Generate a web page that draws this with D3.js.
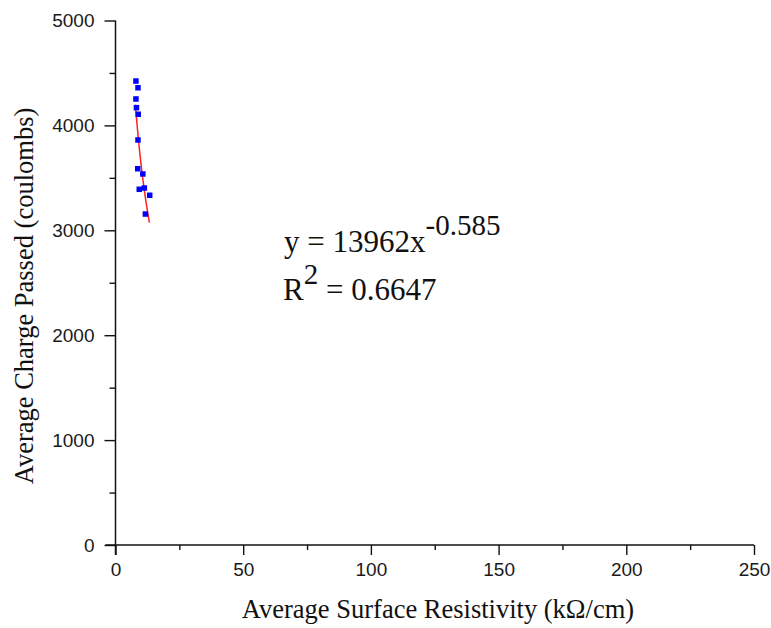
<!DOCTYPE html>
<html><head><meta charset="utf-8">
<script src="https://cdn.jsdelivr.net/npm/d3@7"></script>
<style>body{margin:0;background:#fff}svg{display:block}</style>
</head><body>
<script>
const resistivity = [8.0, 8.8, 8.0, 8.2, 8.9, 8.8, 8.7, 10.7, 9.3, 11.3, 13.4, 11.7];
const charge = [4423, 4359, 4252, 4169, 4106, 3861, 3587, 3537, 3391, 3403, 3334, 3155];
const fitA = 13962, fitB = "-0.585", fitR2 = "0.6647";
const fitRange = [7.8, 13.3];
const xTicks = [0, 50, 100, 150, 200, 250];
const yTicks = [0, 1000, 2000, 3000, 4000, 5000];

const W = 771, H = 628;
const svg = d3.select("body").append("svg").attr("width", W).attr("height", H);
const x = d3.scaleLinear().domain([0, 250]).range([115.5, 754]);
const y = d3.scaleLinear().domain([0, 5000]).range([545, 20.5]);

const sans = "Liberation Sans, Arial, sans-serif";
const xAxis = svg.append("g").attr("transform", `translate(0,${y(0)})`)
  .call(d3.axisBottom(x).tickValues(xTicks).tickSize(10).tickPadding(8).tickFormat(d3.format("d")));
const xMinor = svg.append("g").attr("transform", `translate(0,${y(0)})`)
  .call(d3.axisBottom(x).tickValues(d3.range(25, 250, 50)).tickSize(5).tickFormat(""));
const yAxis = svg.append("g").attr("transform", `translate(${x(0)},0)`)
  .call(d3.axisLeft(y).tickValues(yTicks).tickSize(11).tickPadding(10).tickFormat(d3.format("d")));
const yMinor = svg.append("g").attr("transform", `translate(${x(0)},0)`)
  .call(d3.axisLeft(y).tickValues(d3.range(500, 5000, 1000)).tickSize(6).tickFormat(""));
[xAxis, xMinor, yAxis, yMinor].forEach(g => {
  g.select(".domain").remove();
  g.selectAll("line").attr("stroke", "#111").attr("stroke-width", 1.4);
  g.selectAll("text").attr("font-family", sans).attr("font-size", 19).attr("fill", "#1a1a1a");
});
// axis lines (crossing at origin)
svg.append("line").attr("x1", x(0) - 10).attr("x2", x(250)).attr("y1", y(0)).attr("y2", y(0))
  .attr("stroke", "#111").attr("stroke-width", 1.5);
svg.append("line").attr("x1", x(0)).attr("x2", x(0)).attr("y1", y(5000)).attr("y2", y(0) + 10)
  .attr("stroke", "#111").attr("stroke-width", 1.5);

// fit line
const fitPts = d3.range(fitRange[0], fitRange[1] + 0.001, 0.1).map(v => [v, fitA * Math.pow(v, +fitB)]);
svg.append("path").datum(fitPts)
  .attr("d", d3.line().x(d => x(d[0])).y(d => y(d[1])))
  .attr("fill", "none").attr("stroke", "#ff2020").attr("stroke-width", 1.5);

// points
const s = 5.5;
svg.selectAll("rect.pt").data(resistivity.map((v, i) => [v, charge[i]])).enter()
  .append("rect").attr("class", "pt")
  .attr("x", d => x(d[0]) - s / 2).attr("y", d => y(d[1]) - s / 2)
  .attr("width", s).attr("height", s).attr("fill", "#0000ff");

// titles
const serif = "Liberation Serif, Times New Roman, serif";
svg.append("text").attr("x", 438).attr("y", 618).attr("text-anchor", "middle")
  .attr("font-family", serif).attr("font-size", 26.5).attr("fill", "#111")
  .text("Average Surface Resistivity (kΩ/cm)");
svg.append("text").attr("transform", "translate(33,296) rotate(-90)").attr("text-anchor", "middle")
  .attr("font-family", serif).attr("font-size", 26.5).attr("fill", "#111")
  .text("Average Charge Passed (coulombs)");

// equation
const eq = svg.append("text").attr("x", 284).attr("y", 252)
  .attr("font-family", serif).attr("font-size", 31).attr("fill", "#111");
eq.append("tspan").text(`y = ${fitA}x`);
eq.append("tspan").attr("dy", -17).attr("font-size", 29).text(fitB);
const r2 = svg.append("text").attr("x", 283).attr("y", 300)
  .attr("font-family", serif).attr("font-size", 31).attr("fill", "#111");
r2.append("tspan").text("R");
r2.append("tspan").attr("dy", -16).attr("font-size", 29).text("2");
r2.append("tspan").attr("dy", 16).text(` = ${fitR2}`);
</script>
</body></html>
